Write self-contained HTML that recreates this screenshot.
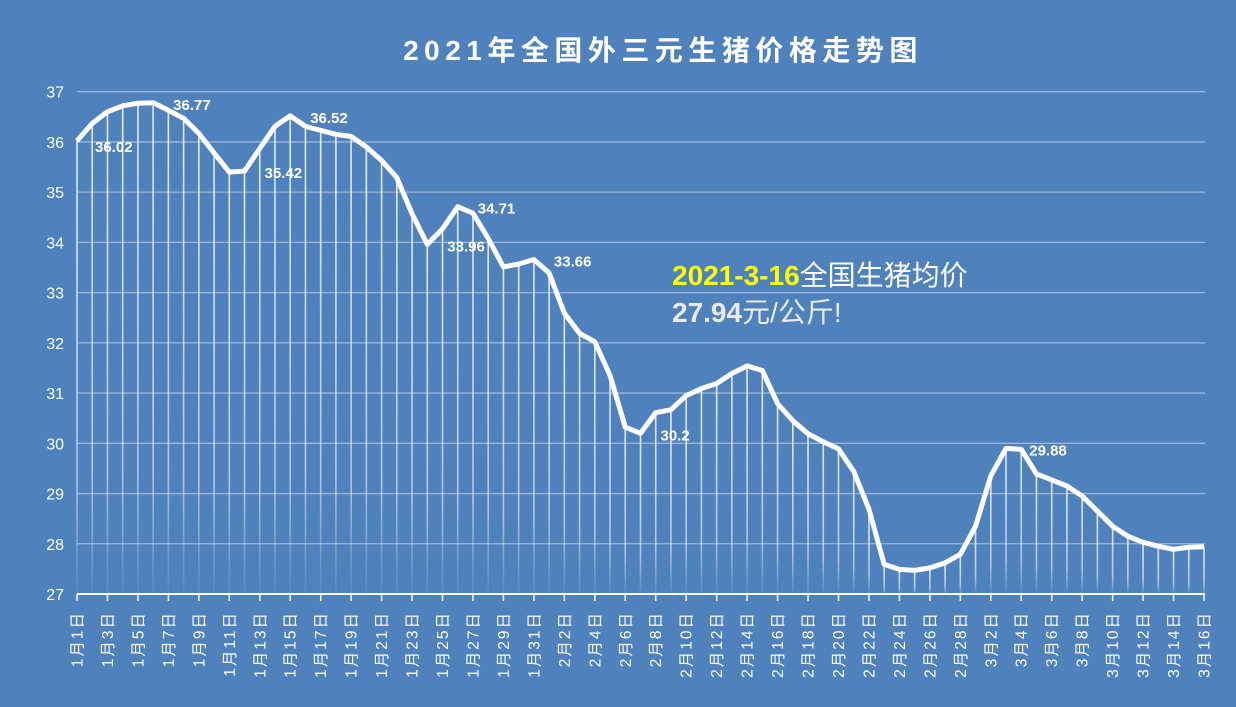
<!DOCTYPE html>
<html><head><meta charset="utf-8"><style>
html,body{margin:0;padding:0;background:#4f81bd;}
svg{display:block;font-family:"Liberation Sans","Noto Sans CJK SC",sans-serif;}
</style></head><body>
<svg id="chart" width="1236" height="707" viewBox="0 0 1236 707">
<defs>
<linearGradient id="dropfade" x1="0" y1="0" x2="0" y2="1">
<stop offset="0" stop-color="#ffffff" stop-opacity="0.85"/>
<stop offset="0.75" stop-color="#ffffff" stop-opacity="0.55"/>
<stop offset="1" stop-color="#ffffff" stop-opacity="0.05"/>
</linearGradient>
</defs>
<rect x="0" y="0" width="1236" height="707" fill="#4f81bd"/>
<text x="663" y="60" text-anchor="middle" font-size="28" font-weight="bold" fill="#ffffff" letter-spacing="5.5">2021年全国外三元生猪价格走势图</text>
<g id="grid"></g>
<g id="ylabels"></g>
<g id="drops"></g>
<g id="axis"></g>
<g id="xlabels"></g>
<g id="line"></g>
<g id="vlabels"></g>
<text x="672" y="285" font-size="28" font-weight="bold"><tspan fill="#ffff00">2021-3-16</tspan><tspan fill="#ffffff" font-weight="normal">全国生猪均价</tspan></text>
<text x="672" y="322" font-size="28" fill="#ebebeb"><tspan font-weight="bold">27.94</tspan>元/公斤!</text>
</svg>
<script>
const months = ["1月","2月","3月"];
const monthDays = [31, 28, 16];
const prices = [
36.02,36.37,36.6,36.72,36.77,36.78,36.63,36.47,36.17,35.78,35.4,35.42,35.87,36.31,36.52,36.31,36.23,36.15,36.11,35.9,35.63,35.29,34.57,33.96,34.27,34.71,34.58,34.08,33.51,33.57,33.66,
33.39,32.59,32.19,32.02,31.35,30.32,30.2,30.61,30.67,30.95,31.09,31.19,31.39,31.54,31.45,30.79,30.45,30.19,30.03,29.89,29.44,28.69,27.59,27.49,27.47,27.52,27.62,27.79,
28.35,29.35,29.9,29.88,29.39,29.27,29.15,28.95,28.65,28.35,28.15,28.03,27.95,27.89,27.93,27.94
];
const yTicks = [27,28,29,30,31,32,33,34,35,36,37];
const labelIdx = [0,5,11,14,23,25,30,37,62];
const labelText = ["36.02","36.77","35.42","36.52","33.96","34.71","33.66","30.2","29.88"];

const cats = [];
months.forEach((m,i)=>{for(let d=1;d<=monthDays[i];d++)cats.push(m+d+"日");});
const X0=77, X1=1204, Y0=594, Y1=91.7, VMIN=27, VMAX=37;
const xs = i => X0 + (X1-X0)*i/(cats.length-1);
const ys = v => Y0 - (v-VMIN)/(VMAX-VMIN)*(Y0-Y1);
const NS="http://www.w3.org/2000/svg";
function mk(tag,attrs,parent){const e=document.createElementNS(NS,tag);for(const k in attrs)e.setAttribute(k,attrs[k]);parent.appendChild(e);return e;}
const g=id=>document.getElementById(id);

yTicks.forEach(t=>{
  if(t>VMIN){
    const l=mk("line",{x1:X0,x2:1205,y1:ys(t),y2:ys(t),stroke:"#9db6dc","stroke-width":1.3},g("grid"));
    
    
  }
  const tx=mk("text",{x:64,y:ys(t)+6,"text-anchor":"end","font-size":16,fill:"#ffffff"},g("ylabels"));
  tx.textContent=t;
  
  
});

prices.forEach((v,i)=>{
  const l=mk("rect",{x:xs(i)-0.8,y:ys(v),width:1.6,height:Y0-ys(v),fill:"url(#dropfade)"},g("drops"));
  
  
});

const ax=mk("line",{x1:X0,x2:X1+1,y1:Y0,y2:Y0,stroke:"#ffffff","stroke-width":2},g("axis"));


cats.forEach((c,i)=>{
  if(i%2!==0)return;
  const x=xs(i);
  const tk=mk("line",{x1:x,x2:x,y1:Y0,y2:Y0+7,stroke:"#ffffff","stroke-width":1.5},g("axis"));
  
  
  const t=mk("text",{x:0,y:0,transform:`translate(${x+5.5},611) rotate(-90)`,"text-anchor":"end","font-size":15.5,"letter-spacing":2,fill:"#ffffff"},g("xlabels"));
  t.textContent=c;
  
  
});

const pl=mk("polyline",{points:prices.map((v,i)=>xs(i)+","+ys(v)).join(" "),fill:"none",stroke:"#ffffff","stroke-width":5,"stroke-linejoin":"round"},g("line"));



labelIdx.forEach((idx,k)=>{
  const x=xs(idx), y=ys(prices[idx]);
  let tx=x+20, ty=y+7;
  if(k===0){tx=x+18;ty=y+11;}
  if(k===8){tx=x+8;ty=y+6;}
  const t=mk("text",{x:tx,y:ty,"font-size":15,"font-weight":"bold",fill:"#ffffff"},g("vlabels"));
  t.textContent=labelText[k];
  
  
});
</script>
</body></html>
